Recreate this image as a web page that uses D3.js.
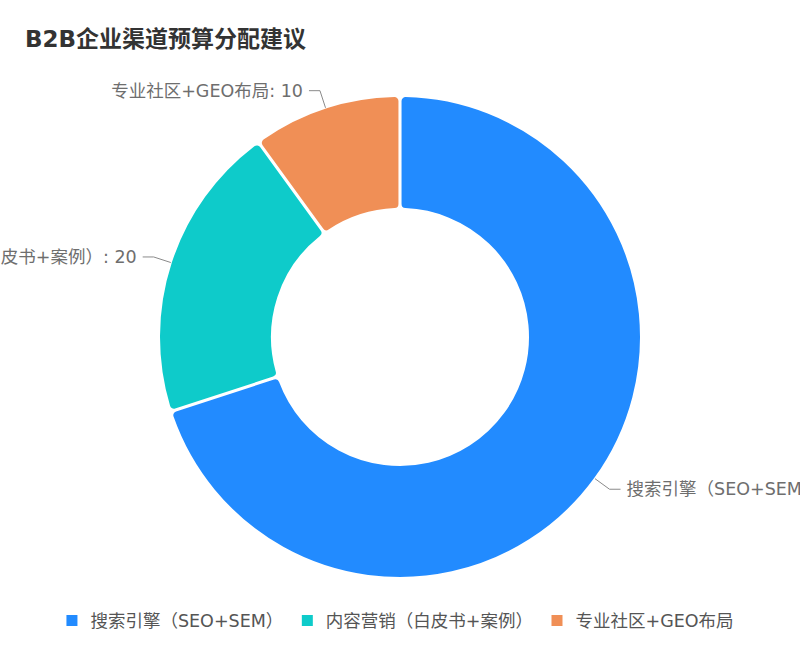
<!DOCTYPE html>
<html>
<head>
<meta charset="utf-8">
<script src="https://cdn.jsdelivr.net/npm/d3@7"></script>
<style>
    body { margin: 0; background: #fff; }
    svg text { font-family: "DejaVu Sans", "Noto Sans CJK SC", sans-serif; }
</style>
</head>
<body>
<script>

// chart data
var channels = ["搜索引擎（SEO+SEM）", "内容营销（白皮书+案例）", "专业社区+GEO布局"];
var budgets = [70, 20, 10];
var colors = ["#228bff", "#0ecbca", "#f08f56"];

var width = 800,
    height = 655;

var svg = d3.select("body").append("svg")
    .attr("width", width)
    .attr("height", height);

// title
svg.append("text")
    .attr("x", 25)
    .attr("y", 47)
    .style("font-size", "23px")
    .style("font-weight", "bold")
    .style("fill", "#333")
    .text("B2B企业渠道预算分配建议");

var cx = 400,
    cy = 337,
    outerR = 241,
    innerR = 128;

var pie = d3.pie().sort(null).value(function(d) { return d; });
var arcs = pie(budgets);

var arc = d3.arc()
    .innerRadius(innerR)
    .outerRadius(outerR)
    .cornerRadius(5)
    .padAngle(0.004);

var g = svg.append("g")
    .attr("transform", "translate(" + cx + "," + cy + ")");

g.selectAll("path.slice")
    .data(arcs)
    .enter()
    .append("path")
    .attr("class", "slice")
    .attr("d", arc)
    .style("fill", function(d, i) { return colors[i]; })
    .style("stroke", "#fff")
    .style("stroke-width", 2);

// label lines and labels
var len1 = 18, len2 = 11;

arcs.forEach(function(d, i) {
    var mid = (d.startAngle + d.endAngle) / 2;
    var sx = Math.sin(mid), sy = -Math.cos(mid);
    var p0 = [sx * outerR, sy * outerR];
    var p1 = [sx * (outerR + len1), sy * (outerR + len1)];
    var dir = sx >= 0 ? 1 : -1;
    var p2 = [p1[0] + dir * len2, p1[1]];

    g.append("polyline")
        .attr("points", [p0, p1, p2].map(function(p) { return p.join(","); }).join(" "))
        .style("fill", "none")
        .style("stroke", "#8a8a8a")
        .style("stroke-width", 1);

    g.append("text")
        .attr("x", p2[0] + dir * 6)
        .attr("y", p2[1])
        .attr("dy", "0.35em")
        .style("text-anchor", dir > 0 ? "start" : "end")
        .style("font-size", "17.5px")
        .style("fill", "#6e6e6e")
        .text(channels[i] + ": " + budgets[i]);
});

// legend, centred under the chart
var legend = svg.append("g").attr("class", "legend");

var items = legend.selectAll("g.item")
    .data(channels)
    .enter()
    .append("g")
    .attr("class", "item");

items.append("rect")
    .attr("x", 0)
    .attr("y", -5.5)
    .attr("width", 11)
    .attr("height", 11)
    .style("fill", function(d, i) { return colors[i]; });

items.append("text")
    .attr("x", 24)
    .attr("y", 0)
    .attr("dy", "0.35em")
    .style("font-size", "17.5px")
    .style("fill", "#555")
    .text(function(d) { return d; });

var gap = 18.5, xpos = 0, offsets = [];
items.each(function() {
    var w = 24 + d3.select(this).select("text").node().getComputedTextLength();
    offsets.push(xpos);
    xpos += w + gap;
});
var total = xpos - gap;
items.attr("transform", function(d, i) {
    return "translate(" + (width / 2 - total / 2 + offsets[i]) + ",620.5)";
});

</script>
</body>
</html>
